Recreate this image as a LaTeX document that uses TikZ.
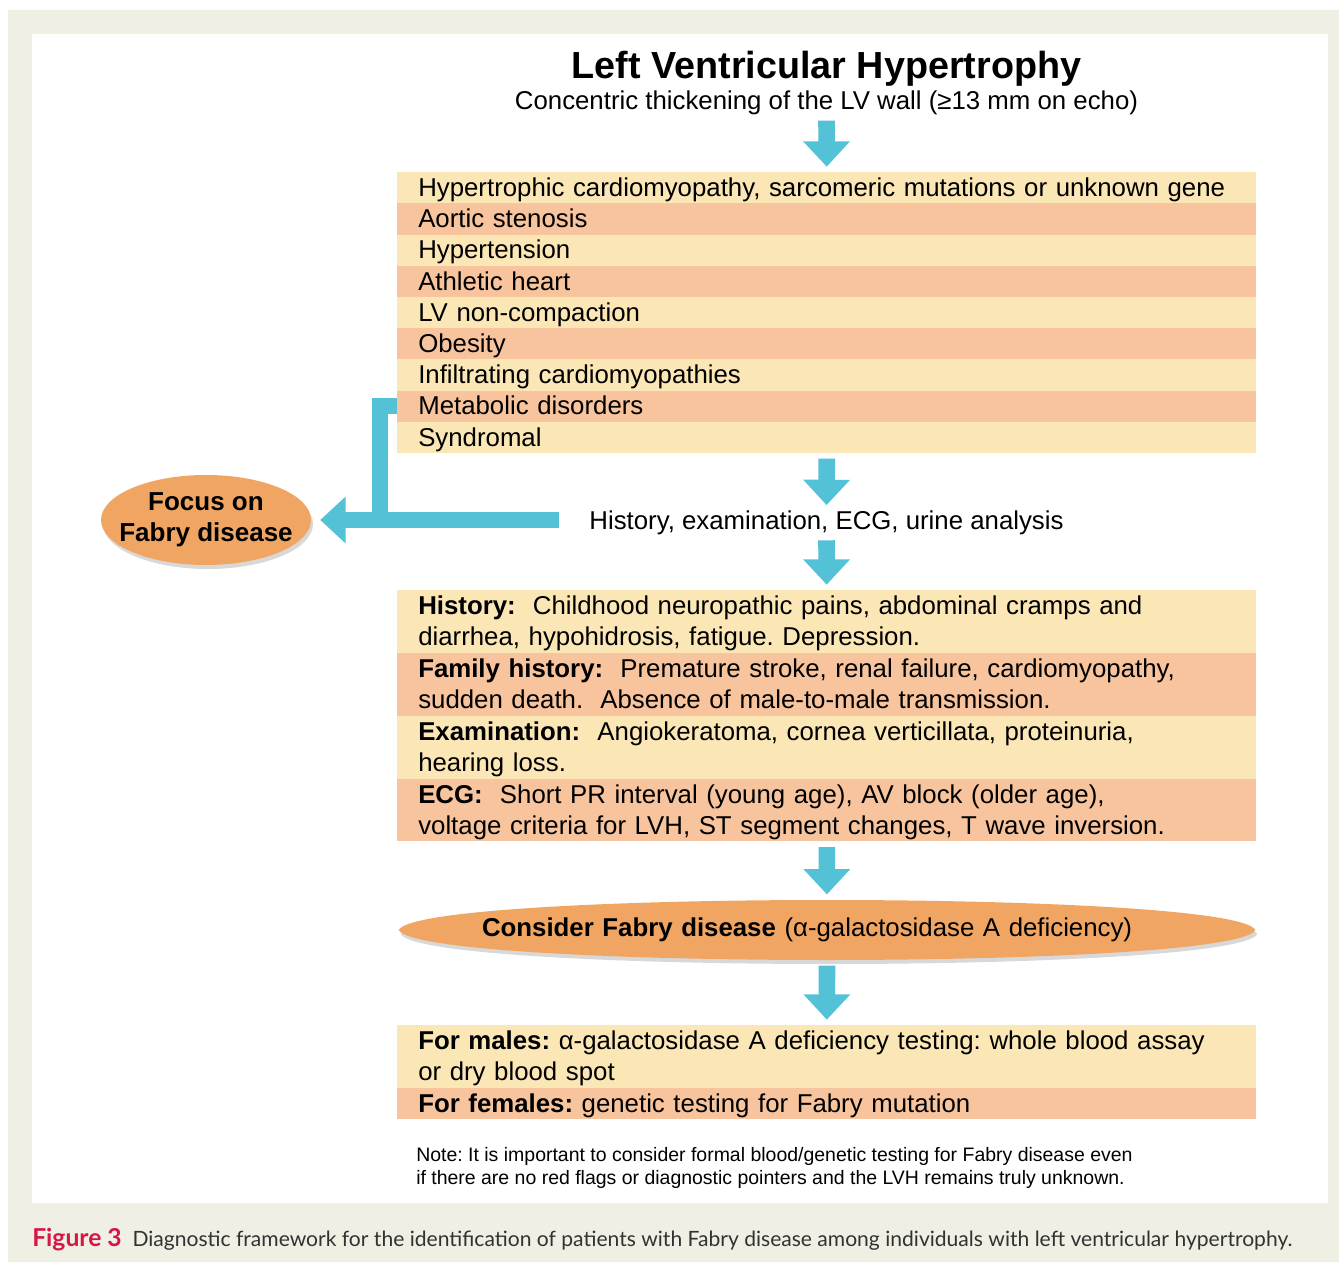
\documentclass[tikz,border=0pt]{standalone}
\usepackage{fontspec}
\setmainfont{Liberation Sans}
\newfontfamily\capfont{Lato}
\frenchspacing
\usetikzlibrary{arrows.meta, positioning, shapes.geometric, shadows, backgrounds}

\definecolor{rowlight}{RGB}{251,230,182}
\definecolor{rowdark}{RGB}{247,196,157}
\definecolor{fabryorange}{RGB}{240,166,98}
\definecolor{arrowcyan}{RGB}{84,194,214}
\definecolor{pagebeige}{RGB}{239,239,228}
\definecolor{capred}{RGB}{214,22,72}
\definecolor{capgray}{RGB}{50,50,50}

\newcommand\rowstrut{\rule[-5.2pt]{0pt}{23.4pt}}

\begin{document}
\begin{tikzpicture}[x=0.75pt, y=-0.75pt,
  txt/.style={inner sep=0pt, font=\fontsize{19.35}{23.4}\selectfont},
  row/.style={anchor=north west, inner xsep=15.75pt, inner ysep=0pt, text width=612.75pt, minimum height=23.4pt, align=left, font=\fontsize{19.35}{23.4}\selectfont, execute at begin node=\rowstrut, execute at end node=\rowstrut},
  tworow/.style={row, minimum height=46.8pt},
  shade/.style={drop shadow={shadow xshift=1.5pt, shadow yshift=-3pt, opacity=0.3}},
  bigarr/.style={draw=arrowcyan, line width=12.5pt, -{Triangle[width=34pt, length=19pt]}, shorten <=4pt, shorten >=4pt},
  bigline/.style={draw=arrowcyan, line width=12pt}
]
\useasboundingbox (0,0) rectangle (1339,1262);
% page
\begin{scope}[on background layer]
\fill[white] (0,0) rectangle (1339,1262);
\fill[pagebeige] (8,10) rectangle (1339,1262);
\fill[white] (32,34) rectangle (1328,1203);
\end{scope}

% heading
\node[font=\fontsize{28.3}{34}\selectfont\bfseries, inner sep=0pt] (title) at (826.5,69) {Left Ventricular Hypertrophy};
\node[txt] (sub) at (826.5,103) {Concentric thickening of the LV wall (≥13 mm on echo)};

% differential diagnoses
\foreach \c/\t [count=\i] in {rowlight/{Hypertrophic cardiomyopathy, sarcomeric mutations or unknown gene}, rowdark/Aortic stenosis, rowlight/Hypertension, rowdark/Athletic heart, rowlight/LV non-compaction, rowdark/Obesity, rowlight/Infiltrating cardiomyopathies, rowdark/Metabolic disorders, rowlight/Syndromal}
  \node[row, fill=\c] (r\i) at (397,{172+31.2*(\i-1)}) {\t};

\node[txt, text height=18pt, text depth=4pt] (exam) at (826.5,520) {History, examination, ECG, urine analysis};

\node[minimum width=157.5pt, minimum height=67.5pt, inner sep=0pt, align=center, font=\fontsize{19.5}{23.4}\selectfont\bfseries] (focus) at (206,520) {Focus on\\Fabry disease};

% red flags
\node[tworow, fill=rowlight] (h1) at (397,590) {\textbf{History:}\ \ Childhood neuropathic pains, abdominal cramps and\\diarrhea, hypohidrosis, fatigue. Depression.};
\node[tworow, fill=rowdark, below=0pt of h1] (h2) {\textbf{Family history:}\ \ Premature stroke, renal failure, cardiomyopathy,\\sudden death.\ \ Absence of male-to-male transmission.};
\node[tworow, fill=rowlight, below=0pt of h2] (h3) {\textbf{Examination:}\ \ Angiokeratoma, cornea verticillata, proteinuria,\\hearing loss.};
\node[tworow, fill=rowdark, below=0pt of h3] (h4) {\textbf{ECG:}\ \ Short PR interval (young age), AV block (older age),\\voltage criteria for LVH, ST segment changes, T wave inversion.};

\node[minimum height=45pt, inner sep=0pt, text width=642pt, align=left, font=\fontsize{19.35}{23.4}\selectfont] (consider) at (827,930) {\hspace*{62.25pt}\textbf{Consider Fabry disease} (α-galactosidase A deficiency)};

% testing
\node[tworow, fill=rowlight] (m1) at (397,1025) {\textbf{For males:} α-galactosidase A deficiency testing: whole blood assay\\or dry blood spot};
\node[row, fill=rowdark, below=0pt of m1] (m2) {\textbf{For females:} genetic testing for Fabry mutation};

\node[anchor=north west, inner sep=0pt, align=left, font=\fontsize{14.6}{17.5}\selectfont] (note) at (416,1147) {Note: It is important to consider formal blood/genetic testing for Fabry disease even\\if there are no red flags or diagnostic pointers and the LVH remains truly unknown.};

% orange shapes
\begin{scope}[on background layer]
\fill[fabryorange, shade] (focus.center) ellipse [x radius=105, y radius=45];
\fill[fabryorange, shade] (consider.west) .. controls ([xshift=15pt,yshift=30pt]consider.west) and ([xshift=-15pt,yshift=30pt]consider.east) .. (consider.east)
  .. controls ([xshift=-15pt,yshift=-30pt]consider.east) and ([xshift=15pt,yshift=-30pt]consider.west) .. cycle;
\end{scope}

% arrows
\draw[bigarr] (sub) -- (r1);
\draw[bigarr, shorten >=0pt] (r9) -- (exam);
\draw[bigarr] (exam) -- (h1);
\draw[bigarr] (h4) -- (consider);
\draw[bigarr] (consider) -- (m1);

\coordinate (bend) at (380,520);
\draw[bigline] (r8.west) -| (bend);
\draw[bigarr, shorten <=22.5pt, shorten >=6.75pt] (exam.west) -- (focus.east);

% caption
\node[anchor=west, inner sep=0pt, text=capgray, font=\capfont\fontsize{15.8}{19}\selectfont] (caption) at (32,1240) {\textcolor{capred}{\fontsize{18.5}{19}\selectfont\textbf{Figure 3}}\ \ Diagnostic framework for the identification of patients with Fabry disease among individuals with left ventricular hypertrophy.};
\end{tikzpicture}
\end{document}
